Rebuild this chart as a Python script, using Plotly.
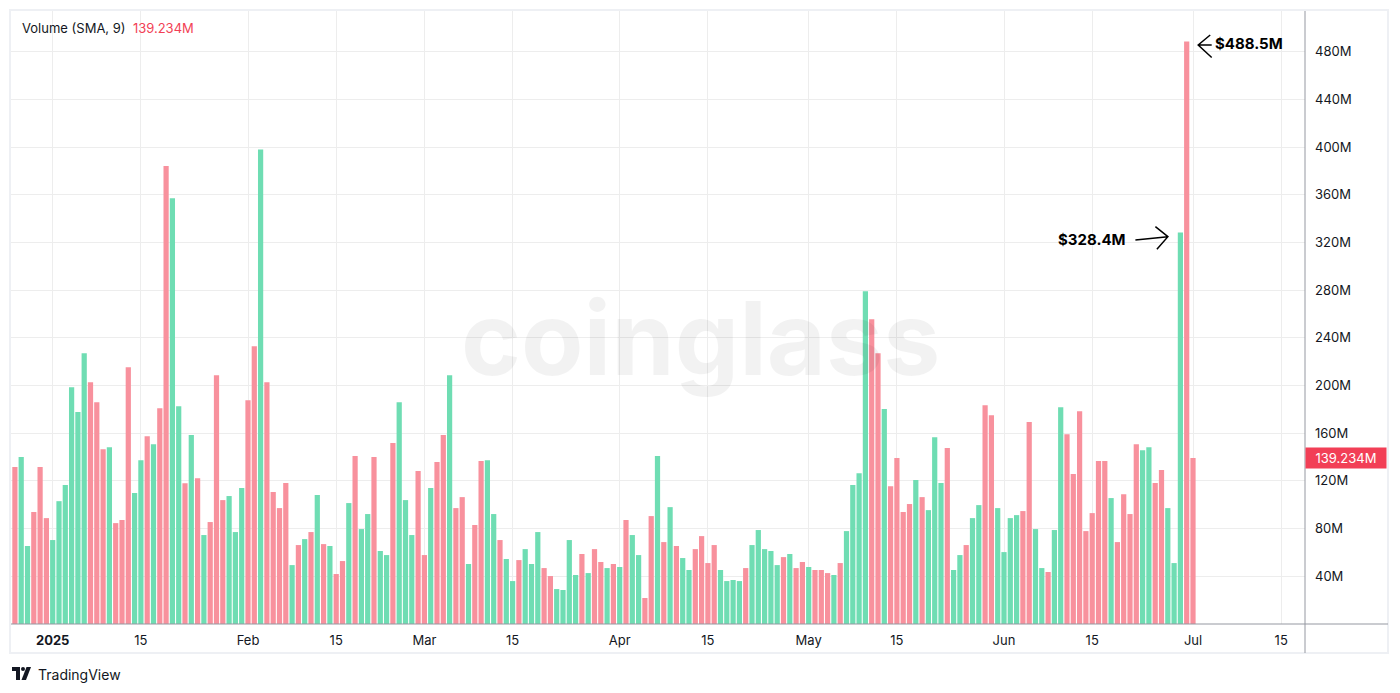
import pandas as pd
import plotly.graph_objects as go

# ---------------- data ----------------
first_day = "2024-12-26"
volume_m = [
    # Dec 26-31
    131.6, 140, 65.4, 93.9, 131.6, 88.8,
    # Jan
    70.4, 103, 116.5, 198.6, 177.7, 227, 202.8, 186, 146.6, 148.3,
    84.6, 87.2, 215.4, 109.8, 137.4, 157.5, 150.8, 181, 384, 357,
    182.7, 118, 158.4, 122.3, 74.6, 85.5, 208.7, 103.9, 107.3, 77.1, 114,
    # Feb
    187.7, 233, 398, 202.8, 110.6, 97.2, 118.2, 49.4, 66.2, 71.2,
    77.1, 108.1, 67, 65.4, 41.9, 52.8, 101.4, 140.8, 79.6, 92.2,
    140, 61.2, 57.8, 151.7, 186, 103.9, 74.6, 128.2,
    # Mar
    57.8, 114, 135.8, 158.4, 208.7, 97.2, 106.4, 50.3, 83, 136.6,
    137.4, 92.2, 70.4, 54.5, 36, 53.6, 62.8, 50.3, 77.1, 46.9,
    40.2, 29.3, 28.5, 70.4, 41.1, 58.7, 42.7, 62.8, 52, 46.9, 50.3,
    # Apr
    47.8, 87.2, 74.6, 57.8, 21.8, 90.5, 140.8, 68.7, 98, 65.4,
    55.3, 45.3, 62.8, 73.7, 51.1, 66.2, 45.3, 36, 36.9, 36,
    46.9, 66.2, 78.8, 62.8, 61.2, 49.4, 56.1, 58.7, 46.9, 52,
    # May
    47.8, 45.3, 45.3, 42.7, 41.1, 51.1, 77.9, 116.5, 126.5, 279,
    255.6, 227, 180.2, 115.6, 139.1, 93.9, 100.6, 120.7, 106.4, 95.5,
    156.7, 118.2, 147.5, 45.3, 57.8, 66.2, 88.8, 99.7, 183.5, 175.1, 97.2,
    # Jun
    60.3, 88.8, 91.3, 94.7, 169.3, 79.6, 46.9, 43.6, 78.8, 181.8,
    159.2, 125.7, 178.5, 77.9, 93, 136.6, 136.6, 105.6, 68.7, 108.9,
    92.2, 150.8, 145.8, 148.3, 118.2, 129.1, 97.2, 51.1, 328.4, 488.5,
    # Jul 1
    139.234,
]
is_up = [
    0, 1, 1, 0, 0, 0,
    1, 1, 1, 1, 1, 1, 0, 0, 0, 1,
    0, 0, 0, 1, 1, 0, 1, 0, 0, 1,
    1, 0, 1, 0, 1, 0, 0, 0, 1, 1, 1,
    0, 0, 1, 0, 0, 0, 0, 1, 0, 1,
    0, 1, 0, 1, 0, 0, 1, 0, 1, 1,
    0, 1, 1, 0, 1, 1, 1, 0,
    0, 1, 0, 0, 1, 0, 0, 1, 0, 0,
    1, 1, 0, 1, 1, 0, 1, 1, 1, 0,
    0, 1, 1, 1, 1, 0, 1, 0, 0, 1, 0,
    1, 0, 1, 1, 0, 0, 1, 0, 1, 0,
    1, 1, 0, 0, 0, 0, 1, 1, 1, 1,
    0, 1, 1, 1, 1, 1, 0, 1, 0, 0,
    1, 0, 0, 0, 1, 0, 1, 1, 1, 1,
    0, 0, 1, 0, 0, 0, 0, 1, 0, 1,
    1, 1, 0, 1, 1, 0, 1, 1, 0, 0, 1,
    1, 1, 1, 0, 0, 1, 1, 0, 1, 1,
    0, 0, 0, 0, 0, 0, 0, 1, 0, 0,
    0, 0, 1, 1, 0, 0, 1, 1, 1, 0,
    0,
]
y_ticks_m = [40, 80, 120, 160, 200, 240, 280, 320, 360, 400, 440, 480]
y_tick_text = ["40M", "80M", "120M", "160M", "200M", "240M", "280M",
               "320M", "360M", "400M", "440M", "480M"]
x_tick_days = ["2025-01-01", "2025-01-15", "2025-02-01", "2025-02-15",
               "2025-03-01", "2025-03-15", "2025-04-01", "2025-04-15",
               "2025-05-01", "2025-05-15", "2025-06-01", "2025-06-15",
               "2025-07-01", "2025-07-15"]
x_tick_text = ["<b>2025</b>", "15", "Feb", "15", "Mar", "15", "Apr", "15",
               "May", "15", "Jun", "15", "Jul", "15"]
indicator_name = "Volume (SMA, 9)"
last_value_m = 139.234
last_value_text = "139.234M"
callout_days = ["2025-06-29", "2025-06-30"]
callout_values_m = [328.4, 488.5]
callout_text = ["$328.4M", "$488.5M"]

# ---------------- styling / layout ----------------
UP_COLOR = "#6FDDB3"
DOWN_COLOR = "#F8919D"
RED = "#F23F56"
TEXT = "#131722"
GRID = "#EDEDED"
FONT = "Inter"

W, H = 1400, 693
PL, PR, PT, PB = 11, 1305, 11, 624
PX_PER_M = 1.1925
DAY_PX = 6.3
JAN1_PX = 52.7

def fx(px):
    return (px - PL) / (PR - PL)

def fy(py):
    return (PB - py) / (PB - PT)

dates = pd.date_range(first_day, periods=len(volume_m), freq="D")
colors = [UP_COLOR if u else DOWN_COLOR for u in is_up]

x_left = pd.Timestamp("2025-01-01") - pd.Timedelta(days=(JAN1_PX - PL) / DAY_PX)
x_right = x_left + pd.Timedelta(days=(PR - PL) / DAY_PX)
y_top = (PB - PT) / PX_PER_M

fig = go.Figure()
fig.add_trace(go.Bar(
    x=dates, y=volume_m, marker=dict(color=colors, line=dict(width=0)),
    hoverinfo="skip", showlegend=False,
))

fig.update_layout(
    width=W, height=H,
    margin=dict(l=PL, r=W - PR, t=PT, b=H - PB, pad=0),
    paper_bgcolor="white", plot_bgcolor="white",
    bargap=0.17, hovermode=False, showlegend=False,
    font=dict(family=FONT, color=TEXT, size=13),
)
fig.update_xaxes(
    type="date", range=[x_left.strftime("%Y-%m-%d %H:%M:%S"),
                        x_right.strftime("%Y-%m-%d %H:%M:%S")],
    tickmode="array", tickvals=x_tick_days, ticktext=x_tick_text,
    showgrid=True, gridcolor=GRID, gridwidth=1, ticks="",
    showline=False, zeroline=False, tickfont=dict(size=13, color=TEXT),
    ticklabelstandoff=7, fixedrange=True,
)
fig.update_yaxes(
    side="right", range=[0, y_top], tickmode="array",
    tickvals=y_ticks_m, ticktext=y_tick_text,
    showgrid=True, gridcolor=GRID, gridwidth=1, ticks="",
    showline=False, zeroline=False, tickfont=dict(size=13, color=TEXT),
    ticklabelstandoff=9, fixedrange=True,
)

shapes = [
    # outer frame
    dict(type="rect", xref="paper", yref="paper", x0=fx(10), x1=fx(1388),
         y0=fy(653), y1=fy(10), line=dict(color="#EEF0F4", width=2),
         layer="below"),
    # time axis line
    dict(type="line", xref="paper", yref="paper", x0=fx(11), x1=fx(1388),
         y0=fy(624), y1=fy(624), line=dict(color="#9598A1", width=1)),
    # price scale separator
    dict(type="line", xref="paper", yref="paper", x0=fx(1305), x1=fx(1305),
         y0=fy(653), y1=fy(11), line=dict(color="#9598A1", width=1)),
    # TradingView logo
    dict(type="path", xref="paper", yref="paper",
         path=f"M{fx(12)},{fy(667)} L{fx(20)},{fy(667)} L{fx(20)},{fy(680)} "
              f"L{fx(16)},{fy(680)} L{fx(16)},{fy(671)} L{fx(12)},{fy(671)} Z",
         fillcolor=TEXT, line=dict(width=0)),
    dict(type="circle", xref="paper", yref="paper", x0=fx(21), x1=fx(25),
         y0=fy(671), y1=fy(667), fillcolor=TEXT, line=dict(width=0)),
    dict(type="path", xref="paper", yref="paper",
         path=f"M{fx(26.5)},{fy(667)} L{fx(31)},{fy(667)} L{fx(26)},{fy(680)} "
              f"L{fx(21.5)},{fy(680)} Z",
         fillcolor=TEXT, line=dict(width=0)),
]

# hand-drawn style arrows, in pixel offsets (y up) from each callout's bar top
arrow_paths = [
    "M-45,-7.5 L-12.5,-4.3 M-25,5.7 L-12.5,-4.3 L-23.5,-16.9",
    "M25,-3.5 L11.5,-3.5 M23.5,6.5 L11.5,-3.5 L25,-16",
]
label_shifts = [(-88, -7.5), (62.5, -2.5)]
for d, v, p in zip(callout_days, callout_values_m, arrow_paths):
    shapes.append(dict(
        type="path", xref="x", yref="y", xsizemode="pixel", ysizemode="pixel",
        xanchor=d, yanchor=v, path=p, line=dict(color="black", width=1.5),
    ))
fig.update_layout(shapes=shapes)

annotations = [
    # watermark
    dict(xref="paper", yref="paper", x=fx(700), y=fy(338), text="coinglass",
         showarrow=False, font=dict(family=FONT, size=102, color="rgba(0,0,0,0.05)",
                                    weight="bold"),
         xanchor="center", yanchor="middle"),
    # indicator legend
    dict(xref="paper", yref="paper", x=fx(20), y=fy(28), xanchor="left",
         yanchor="middle", showarrow=False,
         text=f"{indicator_name}  <span style='color:{RED}'>{last_value_text}</span>",
         font=dict(family=FONT, size=13, color=TEXT)),
    # last value price label
    dict(xref="paper", yref="y", x=1, y=last_value_m, xanchor="left",
         yanchor="middle", showarrow=False, text=last_value_text,
         bgcolor=RED, borderpad=2, width=76, align="center",
         font=dict(family=FONT, size=13, color="white")),
    # footer
    dict(xref="paper", yref="paper", x=fx(36), y=fy(674), xanchor="left",
         yanchor="middle", showarrow=False, text="TradingView",
         font=dict(family=FONT, size=14, color=TEXT)),
]
for d, v, t, (sx, sy) in zip(callout_days, callout_values_m, callout_text,
                             label_shifts):
    annotations.append(dict(
        x=d, y=v, xref="x", yref="y", text=f"<b>{t}</b>", showarrow=False,
        xanchor="center", yanchor="middle", xshift=sx, yshift=sy,
        font=dict(family=FONT, size=15, color="black"),
    ))
fig.update_layout(annotations=annotations)

fig.write_html("out.html",
               config={"displayModeBar": False, "staticPlot": True},
               post_script="document.body.style.margin='0px';")
